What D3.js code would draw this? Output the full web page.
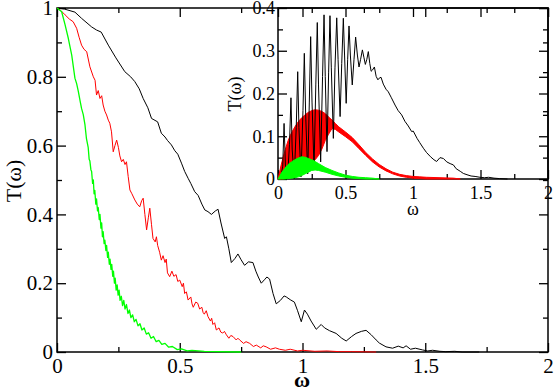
<!DOCTYPE html>
<html>
<head>
<meta charset="utf-8">
<script src="https://cdnjs.cloudflare.com/ajax/libs/d3/7.8.5/d3.min.js"></script>
</head>
<body style="margin:0">
<svg width="554" height="391"></svg>
<script>
// ---- data: [omega, T] ----
let mainBlack = [[0,1],[0.03,0.997],[0.073,0.988],[0.1,0.97],[0.141,0.945],[0.161,0.936],[0.18,0.93],[0.209,0.892],
  [0.24,0.855],[0.276,0.815],[0.3,0.8],[0.317,0.786],[0.335,0.765],[0.351,0.737],[0.37,0.71],[0.385,0.679],[0.395,0.675],
  [0.41,0.669],[0.425,0.636],[0.44,0.625],[0.45,0.615],[0.466,0.602],[0.48,0.585],[0.492,0.575],[0.507,0.549],[0.52,0.525],
  [0.534,0.505],[0.545,0.49],[0.561,0.466],[0.575,0.455],[0.59,0.43],[0.602,0.413],[0.615,0.408],[0.629,0.4],[0.645,0.41],
  [0.656,0.415],[0.668,0.375],[0.683,0.33],[0.69,0.335],[0.7,0.3],[0.71,0.26],[0.725,0.272],[0.737,0.285],[0.75,0.268],
  [0.764,0.252],[0.78,0.262],[0.798,0.26],[0.81,0.235],[0.82,0.218],[0.832,0.2],[0.845,0.21],[0.855,0.218],[0.866,0.212],
  [0.88,0.17],[0.893,0.14],[0.91,0.15],[0.925,0.163],[0.934,0.16],[0.95,0.152],[0.967,0.145],[0.98,0.12],[0.995,0.088],
  [1.008,0.122],[1.02,0.11],[1.035,0.09],[1.056,0.066],[1.076,0.08],[1.09,0.07],[1.11,0.062],[1.137,0.054],[1.16,0.04],
  [1.178,0.032],[1.2,0.045],[1.218,0.054],[1.24,0.06],[1.259,0.063],[1.28,0.05],[1.3,0.035],[1.313,0.026],[1.34,0.015],
  [1.367,0.011],[1.39,0.017],[1.41,0.012],[1.422,0.018],[1.44,0.008],[1.46,0.011],[1.489,0.006],[1.51,0.003],[1.53,0.005],
  [1.56,0.002],[1.584,0.001],[1.62,0.002],[1.65,0],[1.72,0]];

let mainRed = [[0,1],[0.015,0.993],[0.033,0.98],[0.05,0.968],[0.066,0.96],[0.08,0.941],[0.09,0.915],[0.1,0.892],[0.11,0.88],
  [0.121,0.873],[0.134,0.829],[0.148,0.8],[0.155,0.79],[0.161,0.747],[0.168,0.76],[0.175,0.737],[0.182,0.745],[0.188,0.718],
  [0.195,0.7],[0.202,0.689],[0.209,0.674],[0.215,0.665],[0.222,0.64],[0.229,0.582],[0.236,0.6],[0.243,0.616],[0.25,0.595],
  [0.256,0.57],[0.263,0.553],[0.27,0.56],[0.277,0.545],[0.283,0.553],[0.29,0.51],[0.297,0.471],[0.305,0.46],[0.317,0.442],
  [0.327,0.43],[0.337,0.422],[0.345,0.44],[0.351,0.447],[0.358,0.4],[0.365,0.355],[0.372,0.39],[0.378,0.418],[0.385,0.37],
  [0.391,0.33],[0.4,0.32],[0.405,0.335],[0.41,0.31],[0.418,0.29],[0.425,0.267],[0.432,0.28],[0.44,0.26],[0.445,0.27],
  [0.45,0.23],[0.459,0.219],[0.468,0.235],[0.476,0.22],[0.485,0.225],[0.492,0.205],[0.5,0.209],[0.51,0.19],[0.515,0.2],
  [0.52,0.17],[0.527,0.175],[0.534,0.151],[0.545,0.16],[0.55,0.14],[0.555,0.13],[0.565,0.145],[0.573,0.142],[0.581,0.125],
  [0.59,0.13],[0.595,0.115],[0.6,0.11],[0.608,0.12],[0.615,0.103],[0.625,0.09],[0.63,0.098],[0.635,0.08],[0.642,0.085],
  [0.649,0.064],[0.66,0.07],[0.667,0.058],[0.675,0.055],[0.682,0.06],[0.69,0.05],[0.7,0.04],[0.708,0.048],[0.717,0.045],
  [0.73,0.035],[0.737,0.04],[0.744,0.035],[0.76,0.025],[0.77,0.03],[0.785,0.025],[0.8,0.016],[0.812,0.02],[0.83,0.012],
  [0.84,0.018],[0.852,0.015],[0.87,0.008],[0.89,0.012],[0.906,0.008],[0.93,0.005],[0.95,0.008],[0.98,0.003],[1.0,0.005],
  [1.05,0.002],[1.1,0.003],[1.15,0.001],[1.2,0.001],[1.3,0]];

let mainGreen = [[0,1],[0.019,0.989],[0.033,0.951],[0.046,0.912],[0.06,0.863],[0.073,0.796],[0.08,0.78],[0.087,0.757],
  [0.094,0.73],[0.1,0.708],[0.107,0.69],[0.114,0.66],[0.12,0.62],[0.127,0.595],[0.131,0.56],[0.134,0.555],[0.138,0.53],
  [0.141,0.525],[0.145,0.49],[0.148,0.5],[0.151,0.46],[0.154,0.47],[0.158,0.43],[0.161,0.445],[0.165,0.41],[0.168,0.42],
  [0.172,0.385],[0.175,0.4],[0.179,0.36],[0.182,0.375],[0.185,0.335],[0.188,0.35],[0.192,0.315],[0.195,0.325],[0.199,0.295],
  [0.202,0.31],[0.206,0.275],[0.209,0.29],[0.213,0.255],[0.216,0.27],[0.22,0.24],[0.223,0.255],[0.227,0.22],[0.23,0.235],
  [0.234,0.2],[0.237,0.215],[0.241,0.18],[0.245,0.195],[0.249,0.165],[0.253,0.18],[0.257,0.15],[0.262,0.162],[0.267,0.135],
  [0.272,0.15],[0.277,0.125],[0.283,0.138],[0.289,0.112],[0.295,0.122],[0.301,0.1],[0.308,0.108],[0.315,0.088],[0.322,0.095],
  [0.33,0.076],[0.338,0.082],[0.346,0.064],[0.355,0.07],[0.364,0.052],[0.373,0.056],[0.383,0.04],[0.393,0.045],[0.404,0.03],
  [0.415,0.034],[0.427,0.022],[0.44,0.025],[0.455,0.014],[0.47,0.016],[0.49,0.007],[0.507,0.009],[0.53,0.003],[0.55,0.005],
  [0.6,0.002],[0.65,0.001],[0.75,0]];

// inset: black has the big oscillations, red / green are dense bands (upper/lower edge)
let insetBlack = [[0,0],[0.02,0.002],[0.035,0.03],[0.045,0.13],[0.055,0.03],[0.07,0],[0.085,0.08],[0.096,0.19],[0.105,0.07],
  [0.12,0],[0.135,0.12],[0.146,0.251],[0.155,0.12],[0.17,0.005],[0.185,0.16],[0.195,0.294],[0.205,0.15],[0.22,0.012],
  [0.232,0.18],[0.242,0.333],[0.252,0.18],[0.267,0.025],[0.28,0.22],[0.291,0.366],[0.3,0.22],[0.316,0.04],[0.33,0.24],
  [0.341,0.384],[0.35,0.24],[0.363,0.064],[0.375,0.25],[0.385,0.382],[0.395,0.26],[0.41,0.095],[0.422,0.26],[0.435,0.377],
  [0.445,0.28],[0.46,0.146],[0.472,0.27],[0.484,0.376],[0.493,0.29],[0.505,0.177],[0.516,0.28],[0.526,0.358],[0.536,0.29],
  [0.55,0.22],[0.563,0.28],[0.575,0.332],[0.588,0.29],[0.6,0.262],[0.612,0.28],[0.625,0.302],[0.636,0.285],[0.647,0.268],
  [0.658,0.28],[0.669,0.298],[0.68,0.27],[0.69,0.252],[0.7,0.255],[0.714,0.262],[0.727,0.24],[0.74,0.232],[0.75,0.236],
  [0.763,0.238],[0.78,0.222],[0.8,0.21],[0.817,0.204],[0.84,0.19],[0.867,0.173],[0.89,0.16],[0.916,0.15],[0.94,0.135],
  [0.965,0.124],[0.99,0.111],[1.002,0.112],[1.03,0.095],[1.05,0.085],[1.077,0.072],[1.1,0.062],[1.13,0.052],[1.155,0.045],
  [1.175,0.041],[1.2,0.05],[1.225,0.048],[1.25,0.04],[1.275,0.036],[1.299,0.033],[1.32,0.024],[1.35,0.018],[1.373,0.013],
  [1.4,0.01],[1.43,0.007],[1.46,0.006],[1.496,0.004],[1.53,0.003],[1.56,0.004],[1.6,0.002],[1.64,0.001],[1.7,0]];

let redX  = [0,0.025,0.05,0.075,0.1,0.125,0.15,0.175,0.2,0.225,0.25,0.275,0.3,0.325,0.35,0.375,0.4,0.425,0.45,0.5,0.55,0.6,0.65,0.7,0.75,0.8,0.85,0.9,0.95,1.0,1.05,1.1,1.2,1.3,1.35];
let redHi = [0,0.035,0.065,0.09,0.108,0.122,0.134,0.143,0.15,0.156,0.16,0.162,0.161,0.158,0.153,0.145,0.138,0.13,0.122,0.11,0.097,0.08,0.062,0.047,0.034,0.024,0.016,0.011,0.008,0.006,0.005,0.004,0.003,0.002,0];
let redLo = [0,0,0.001,0.003,0.005,0.007,0.01,0.015,0.02,0.027,0.035,0.045,0.055,0.07,0.09,0.105,0.118,0.116,0.11,0.099,0.087,0.071,0.055,0.04,0.028,0.019,0.012,0.007,0.004,0.002,0.001,0,0,0,0];

let greenX  = [0,0.025,0.05,0.075,0.1,0.125,0.15,0.175,0.2,0.225,0.25,0.275,0.3,0.35,0.4,0.45,0.5,0.55,0.6,0.65,0.7,0.75];
let greenHi = [0,0.014,0.025,0.034,0.04,0.045,0.049,0.052,0.051,0.048,0.045,0.041,0.036,0.027,0.02,0.014,0.009,0.006,0.004,0.003,0.002,0];
let greenLo = [0,0,0,0.001,0.002,0.003,0.005,0.008,0.012,0.016,0.02,0.021,0.02,0.016,0.011,0.007,0.004,0.002,0.001,0,0,0];

let mainXTicks = [0,0.5,1,1.5,2], mainYTicks = [0,0.2,0.4,0.6,0.8,1];
let insetXTicks = [0,0.5,1,1.5,2], insetYTicks = [0,0.1,0.2,0.3,0.4];
////------------------------------------
let FONT = "Liberation Serif";
let svg = d3.select("svg").attr("font-family", FONT);

let x = d3.scaleLinear().domain([0,2]).range([57,548]);
let y = d3.scaleLinear().domain([0,1]).range([352,8]);
let xi = d3.scaleLinear().domain([0,2]).range([278,548]);
let yi = d3.scaleLinear().domain([0,0.4]).range([179,8]);

function minors(ticks){
  let out = [];
  for (let i = 0; i < ticks.length-1; i++) out.push((ticks[i]+ticks[i+1])/2);
  return out;
}

// draws a boxed frame with inward ticks on all four sides
function frame(sx, sy, xt, yt, fsize, majorLen, minorLen, padX, padY){
  let g = svg.append("g");
  let x0 = sx.range()[0], x1 = sx.range()[1], y0 = sy.range()[0], y1 = sy.range()[1];
  let fmt = function(d){ return String(d); };
  let sides = [
    [d3.axisBottom, sx, "translate(0," + y0 + ")", xt, padX, true],
    [d3.axisTop, sx, "translate(0," + y1 + ")", xt, padX, false],
    [d3.axisLeft, sy, "translate(" + x0 + ",0)", yt, padY, true],
    [d3.axisRight, sy, "translate(" + x1 + ",0)", yt, padY, false]
  ];
  sides.forEach(function(s){
    let ag = g.append("g")
      .attr("transform", s[2])
      .call(s[0](s[1]).tickValues(s[3]).tickSize(-majorLen).tickPadding(s[4]).tickFormat(s[5] ? fmt : ""));
    ag.select(".domain").remove();
    ag.attr("font-family", FONT);
    ag.selectAll("text").attr("font-family", FONT).attr("font-size", fsize).attr("fill", "#000");
    let mg = g.append("g")
      .attr("transform", s[2])
      .call(s[0](s[1]).tickValues(minors(s[3])).tickSize(-minorLen).tickFormat(""));
    mg.select(".domain").remove();
  });
  g.selectAll("line").attr("stroke", "#000").attr("stroke-width", 1.3);
  g.append("rect")
    .attr("x", x0).attr("y", y1)
    .attr("width", x1 - x0).attr("height", y0 - y1)
    .attr("fill", "none").attr("stroke", "#000").attr("stroke-width", 1.5);
  return g;
}

function line(sx, sy){
  return d3.line().x(function(d){ return sx(d[0]); }).y(function(d){ return sy(d[1]); });
}

// ---- main plot ----
frame(x, y, mainXTicks, mainYTicks, 21, 9, 5, 6, 4);

let mainSeries = [[mainBlack, "#000000", 1], [mainRed, "#ff0000", 1], [mainGreen, "#00ff00", 1.3]];
svg.append("g").selectAll("path")
  .data(mainSeries)
  .enter().append("path")
    .attr("d", function(d){ return line(x, y)(d[0]); })
    .attr("fill", "none")
    .attr("stroke", function(d){ return d[1]; })
    .attr("stroke-width", function(d){ return d[2]; })
    .attr("stroke-linejoin", "round");

svg.append("text")
  .attr("x", 302).attr("y", 387)
  .attr("text-anchor", "middle")
  .attr("font-family", FONT)
  .attr("font-size", 22).attr("font-weight", "bold")
  .text("ω");
svg.append("text")
  .attr("transform", "translate(21,181) rotate(-90)")
  .attr("text-anchor", "middle")
  .attr("font-family", FONT)
  .attr("font-size", 22)
  .text("T(ω)");

// ---- inset ----
frame(xi, yi, insetXTicks, insetYTicks, 18, 9, 5, 7, 3);

let band = d3.area()
  .x(function(d){ return xi(d[0]); })
  .y0(function(d){ return yi(d[2]); })
  .y1(function(d){ return yi(d[1]); });

let redBand = redX.map(function(v,i){ return [v, redHi[i], redLo[i]]; });
let greenBand = greenX.map(function(v,i){ return [v, greenHi[i], greenLo[i]]; });

svg.append("path").attr("d", band(redBand)).attr("fill", "#ff0000")
  .attr("stroke", "#ff0000").attr("stroke-width", 1);
svg.append("path").attr("d", line(xi, yi)(insetBlack)).attr("fill", "none")
  .attr("stroke", "#000").attr("stroke-width", 1).attr("stroke-linejoin", "round");
svg.append("path").attr("d", band(greenBand)).attr("fill", "#00ff00")
  .attr("stroke", "#00ff00").attr("stroke-width", 1);

svg.append("text")
  .attr("x", 413).attr("y", 215)
  .attr("text-anchor", "middle")
  .attr("font-family", FONT)
  .attr("font-size", 18)
  .text("ω");
svg.append("text")
  .attr("transform", "translate(241,94) rotate(-90)")
  .attr("text-anchor", "middle")
  .attr("font-family", FONT)
  .attr("font-size", 18)
  .text("T(ω)");
</script>
</body>
</html>
